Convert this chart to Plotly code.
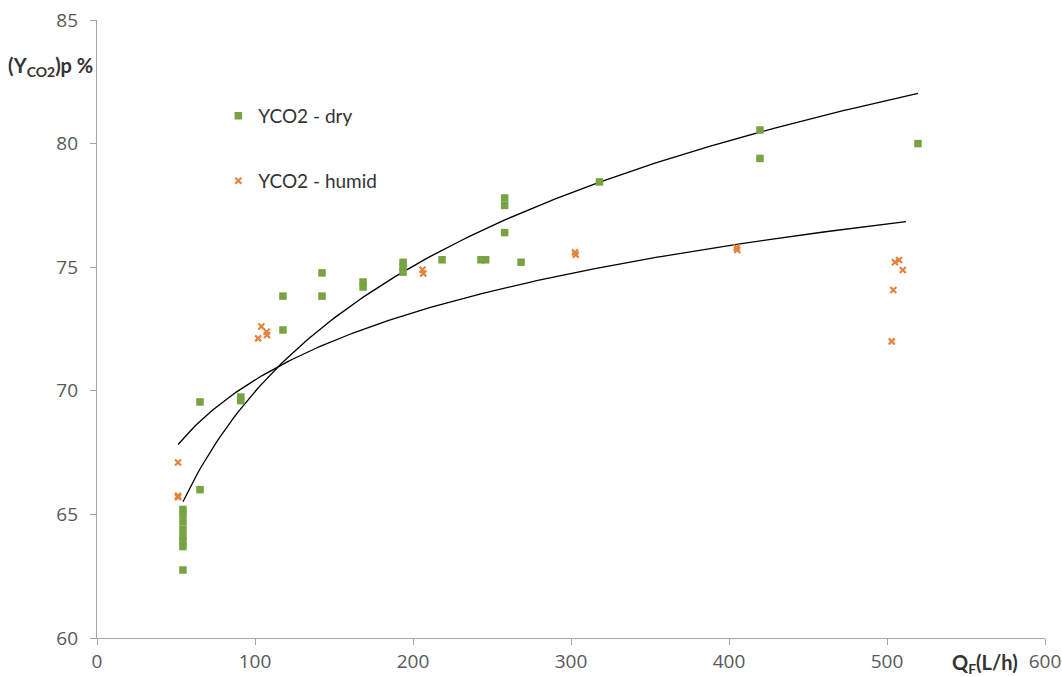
import numpy as np
import plotly.graph_objects as go

# Data
dry_x = [54.4, 54.4, 54.4, 54.4, 54.4, 54.4, 54.4, 54.4, 65.2, 65.2, 91, 91,
         117.7, 117.7, 142.4, 142.4, 168.4, 168.4, 193.7, 193.7, 193.7, 218.4,
         243, 246, 268.4, 258, 258, 258, 318, 419.6, 419.6, 519.6]
dry_y = [65.2, 65.0, 64.7, 64.4, 64.1, 63.9, 63.7, 62.75, 66.0, 69.55, 69.6, 69.75,
         72.46, 73.83, 74.77, 73.83, 74.4, 74.2, 75.2, 75.0, 74.8, 75.3,
         75.3, 75.3, 75.2, 77.8, 77.5, 76.4, 78.45, 80.55, 79.4, 80.0]

humid_x = [51.3, 51.3, 51.3, 104, 107.4, 107.6, 102, 206, 206.5, 302.5, 303,
           404.8, 405.2, 505, 507.6, 510, 504, 503]
humid_y = [67.1, 65.75, 65.7, 72.6, 72.39, 72.26, 72.12, 74.9, 74.75, 75.6, 75.5,
           75.8, 75.7, 75.2, 75.29, 74.89, 74.08, 72.0]

# Logarithmic trend lines (y = a*ln(x) + b), coefficients
dry_trend = (7.32, 36.26)
humid_trend = (3.92, 52.39)

x_ticks = [0, 100, 200, 300, 400, 500, 600]
y_ticks = [60, 65, 70, 75, 80, 85]

GREEN = "#78A342"
ORANGE = "#E4843C"
TXT = "Lato"
TICKF = dict(family="Open Sans", size=19, color="#595959")


def trend(x, coef):
    a, b = coef
    xs = np.linspace(min(x), max(x), 200)
    return xs, a * np.log(xs) + b


fig = go.Figure()

dxs, dys = trend(dry_x, dry_trend)
hxs, hys = trend([51.3, 512], humid_trend)

fig.add_trace(go.Scatter(x=dxs, y=dys, mode="lines", line=dict(color="black", width=1.3),
                         showlegend=False, hoverinfo="skip"))
fig.add_trace(go.Scatter(x=hxs, y=hys, mode="lines", line=dict(color="black", width=1.3),
                         showlegend=False, hoverinfo="skip"))

fig.add_trace(go.Scatter(x=dry_x, y=dry_y, mode="markers", name="YCO2 - dry",
                         marker=dict(symbol="square", size=7.5, color=GREEN),
                         legend="legend"))
fig.add_trace(go.Scatter(x=humid_x, y=humid_y, mode="markers", name="YCO2 - humid",
                         marker=dict(symbol="x-thin", size=6, color=ORANGE,
                                     line=dict(color=ORANGE, width=2.2)),
                         legend="legend2"))

legend_style = dict(bgcolor="rgba(0,0,0,0)", font=dict(family=TXT, size=19, color="#333333"),
                    xanchor="left", yanchor="middle", itemwidth=30)

axis_common = dict(showgrid=False, zeroline=False, automargin=False,
                   showline=True, linecolor="#A6A6A6", linewidth=1.3,
                   ticks="outside", ticklen=6, tickcolor="#A6A6A6", tickwidth=1.3,
                   tickfont=TICKF)

fig.update_layout(
    width=1062, height=677,
    margin=dict(l=97, r=17, t=20, b=39),
    plot_bgcolor="white", paper_bgcolor="white",
    font=dict(family=TXT, size=16, color="#333333"),
    legend=dict(x=0.128, y=0.8447, **legend_style),
    legend2=dict(x=0.128, y=0.7395, **legend_style),
    xaxis=dict(range=[0, 600], tickvals=x_ticks, **axis_common),
    yaxis=dict(range=[60, 85], tickvals=y_ticks, ticklabelstandoff=8, **axis_common),
    annotations=[
        dict(text="<b>(Y<sub>CO2</sub>)p %</b>", xref="paper", yref="paper",
             x=-0.002, y=0.924, xanchor="right", yanchor="middle", showarrow=False,
             font=dict(family=TXT, size=20, color="#333333")),
        dict(text="<b>Q<sub>F</sub>(L/h)</b>", xref="paper", yref="paper",
             x=0.9736, y=-0.0405, xanchor="right", yanchor="middle", showarrow=False,
             font=dict(family=TXT, size=20, color="#333333")),
    ],
)

fig.write_html("out.html")
